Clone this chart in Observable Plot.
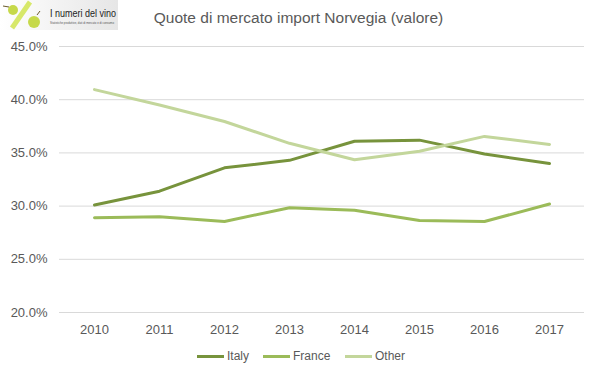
<!DOCTYPE html>
<html>
<head>
<meta charset="utf-8">
<script src="https://cdn.jsdelivr.net/npm/d3@7"></script>
<script src="https://cdn.jsdelivr.net/npm/@observablehq/plot@0.6"></script>
<style>
  body { margin: 0; background: #fff; font-family: "Liberation Sans", Arial, sans-serif; }
  #wrap { position: relative; width: 599px; height: 378px; overflow: hidden; }
  #title { position: absolute; top: 9px; left: 0; width: 597px; text-align: center; font-size: 15.5px; color: #595959; z-index: 2; }
  #legend { position: absolute; top: 347px; left: 0; width: 599px; height: 18px; font-size: 12px; color: #595959; }
  .li { position: absolute; top: 0; display: flex; align-items: center; height: 18px; }
  .sw { width: 27px; height: 3px; margin-right: 3px; }
  #logo { position: absolute; top: 0; left: 0; z-index: 2; overflow: visible; }
</style>
</head>
<body>
<div id="wrap">
  <svg id="logo" width="150" height="32">
    <defs>
      <linearGradient id="lg" x1="0" x2="1"><stop offset="0" stop-color="#ffffff"/><stop offset="1" stop-color="#e6e6e6"/></linearGradient>
    </defs>
    <rect x="0" y="0" width="118" height="30" fill="url(#lg)"/>
    <line x1="12" y1="28" x2="30" y2="2" stroke="#d7e86a" stroke-width="5"/>
    <circle cx="13" cy="10" r="5" fill="#c6d94a"/>
    <circle cx="34" cy="22" r="6" fill="#c6d94a"/>
    <line x1="3" y1="6" x2="9" y2="7" stroke="#6b5a2a" stroke-width="1"/>
    <line x1="37" y1="15" x2="40" y2="11" stroke="#6b5a2a" stroke-width="1"/>
    <text x="50" y="17" font-size="10" fill="#222" font-family="Liberation Sans, Arial" textLength="66" lengthAdjust="spacingAndGlyphs">I numeri del vino</text>
    <text x="50" y="24" font-size="3.2" fill="#555" font-family="Liberation Sans, Arial" textLength="64" lengthAdjust="spacingAndGlyphs">Statistiche produttive, dati di mercato e di consumo</text>
  </svg>
  <div id="title">Quote di mercato import Norvegia (valore)</div>
  <div id="chart"></div>
  <div id="legend"></div>
</div>
<script>
const years = ["2010","2011","2012","2013","2014","2015","2016","2017"];
const seriesNames = ["Italy","France","Other"];
const seriesColors = ["#77933C","#9BBB59","#C3D69B"];
const italy  = [30.1, 31.4, 33.6, 34.3, 36.1, 36.2, 34.9, 34.0];
const france = [28.9, 29.0, 28.55, 29.85, 29.6, 28.65, 28.55, 30.2];
const other  = [40.95, 39.5, 37.95, 35.9, 34.35, 35.15, 36.55, 35.8];
const yTicks = [20, 25, 30, 35, 40, 45];

const allSeries = [italy, france, other];
const data = [];
seriesNames.forEach((s, i) => years.forEach((y, j) => data.push({series: s, year: y, value: allSeries[i][j]})));

const chart = Plot.plot({
  width: 599,
  height: 378,
  marginLeft: 59,
  marginRight: 15,
  marginTop: 46,
  marginBottom: 66,
  style: { fontFamily: "Liberation Sans, Arial, sans-serif", fontSize: "13px", color: "#595959", background: "transparent" },
  x: { type: "point", domain: years, padding: 0.5, label: null },
  y: { domain: [20, 45], label: null },
  color: { domain: seriesNames, range: seriesColors },
  marks: [
    Plot.ruleY(yTicks, { stroke: "#d9d9d9", strokeWidth: 1 }),
    Plot.axisY(yTicks, { tickSize: 0, tickPadding: 12, tickFormat: d => d.toFixed(1) + "%", fontSize: 13, fill: "#595959" }),
    Plot.axisX({ tickSize: 0, tickPadding: 12, fontSize: 13, fill: "#595959" }),
    Plot.line(data, { x: "year", y: "value", z: "series", stroke: "series", strokeWidth: 3, strokeLinejoin: "round", strokeLinecap: "round" })
  ]
});
chart.style.position = "absolute";
chart.style.top = "0";
chart.style.left = "0";
document.getElementById("chart").appendChild(chart);

const legendPos = [197, 263, 345];
const legend = document.getElementById("legend");
seriesNames.forEach((s, i) => {
  const item = document.createElement("div");
  item.className = "li";
  item.style.left = legendPos[i] + "px";
  const sw = document.createElement("div");
  sw.className = "sw";
  sw.style.background = seriesColors[i];
  const t = document.createElement("span");
  t.textContent = s;
  item.appendChild(sw);
  item.appendChild(t);
  legend.appendChild(item);
});
</script>
</body>
</html>
